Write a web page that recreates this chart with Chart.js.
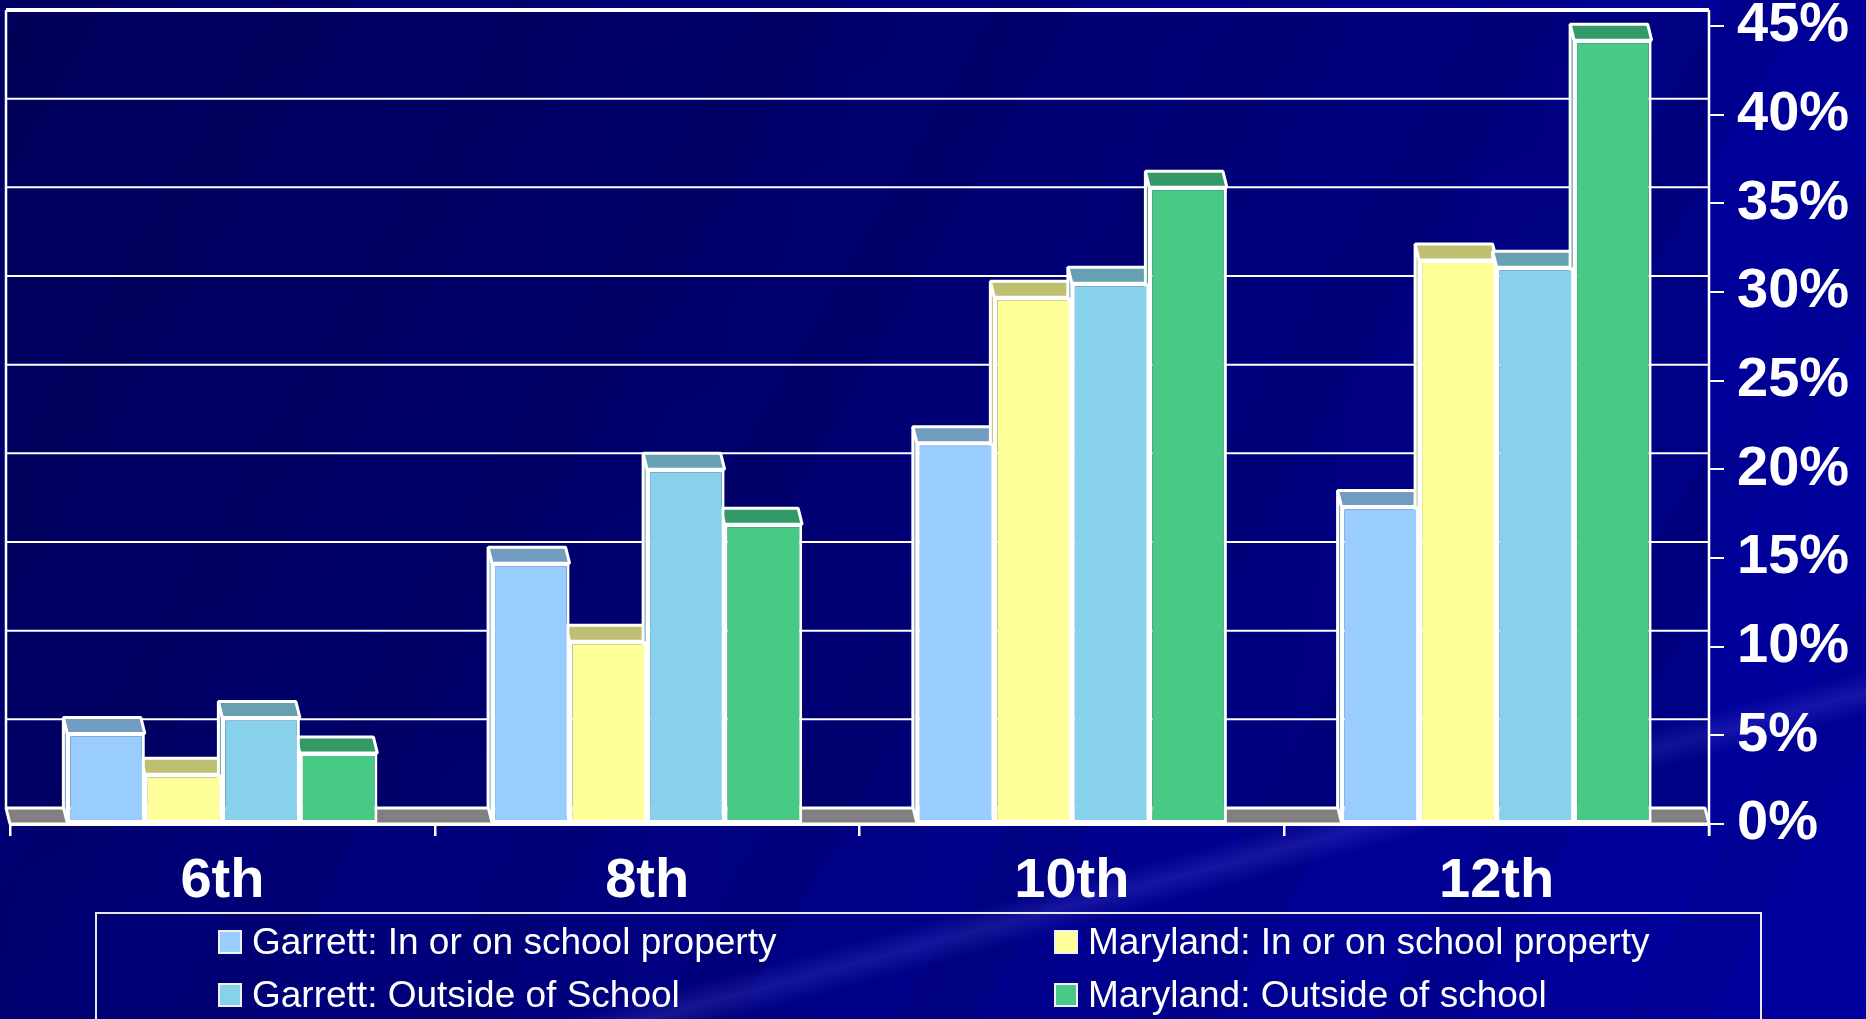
<!DOCTYPE html>
<html>
<head>
<meta charset="utf-8">
<script src="https://cdn.jsdelivr.net/npm/chart.js@4/dist/chart.umd.min.js"></script>
<style>
  html, body { margin: 0; padding: 0; }
  body {
    width: 1866px; height: 1019px; overflow: hidden; position: relative;
    font-family: "Liberation Sans", Arial, sans-serif;
    background:
      linear-gradient(165deg, rgba(255,255,255,0) 0%, rgba(255,255,255,0) 77%, rgba(120,120,255,0.18) 78.5%, rgba(255,255,255,0) 80%),
      repeating-linear-gradient(-60deg, rgba(0,0,0,0) 0px, rgba(0,0,0,0) 140px, rgba(0,0,40,0.07) 140px, rgba(0,0,40,0.07) 210px),
      linear-gradient(155deg, rgba(0,0,30,0.12) 0%, rgba(0,0,30,0) 55%),
      linear-gradient(100deg, #000070 0%, #000080 40%, #000092 70%, #00009e 100%);
  }
  #wrap { position: absolute; left: 0; top: 0; width: 1866px; height: 1019px; }
  #legend {
    position: absolute; left: 95px; top: 912px; width: 1667px; height: 130px;
    border: 2px solid #e8e8f0; box-sizing: border-box;
    display: grid; grid-template-columns: 836px auto; grid-template-rows: 53px 53px;
    padding: 1px 0 0 121px; color: #fff; font-size: 37px;
  }
  .item { display: flex; align-items: center; white-space: nowrap; }
  .sw { width: 20px; height: 20px; border: 2px solid #f0f0f0; margin-right: 10px; flex: none; }
</style>
</head>
<body>
<div id="wrap"><canvas id="gradeChart"></canvas></div>
<div id="legend"></div>
<script>
const categories = ['6th', '8th', '10th', '12th'];
const seriesNames = [
    'Garrett: In or on school property',
    'Maryland: In or on school property',
    'Garrett: Outside of School',
    'Maryland: Outside of school'
];
const garrettIn = [5.1, 14.7, 21.5, 17.9];
const marylandIn = [2.8, 10.3, 29.7, 31.8];
const garrettOut = [6.0, 20.0, 30.5, 31.4];
const marylandOut = [4.0, 16.9, 35.9, 44.2];
const yMax = 45;
const yStep = 5;

const frontColors = ['#99ccff', '#ffff99', '#87d1ea', '#48c986'];
const topColors = ['#729cc0', '#bfbf72', '#66a0b2', '#339966'];

// depth offset of the fake 3d look
const dx = -4, dy = -16;

const bar3d = {
    id: 'bar3d',
    beforeDatasetsDraw(chart) {
        const { ctx, chartArea: a, scales: { y } } = chart;
        const y0 = y.getPixelForValue(0);
        ctx.save();
        ctx.lineJoin = 'bevel';
        // back wall
        ctx.fillStyle = 'rgba(0,0,40,0.16)';
        ctx.fillRect(a.left + dx, y.getPixelForValue(yMax) + dy, a.right - a.left - dx, y0 - y.getPixelForValue(yMax));
        // grid lines on the back wall
        ctx.strokeStyle = '#ffffff';
        y.ticks.forEach(t => {
            if (t.value === 0) return;
            const py = y.getPixelForValue(t.value) + dy;
            ctx.lineWidth = t.value === yMax ? 4 : 2;
            ctx.beginPath();
            ctx.moveTo(a.left + dx, py);
            ctx.lineTo(a.right, py);
            ctx.stroke();
        });
        // left wall edge
        ctx.lineWidth = 2.5;
        ctx.beginPath();
        ctx.moveTo(a.left + dx, y.getPixelForValue(yMax) + dy);
        ctx.lineTo(a.left + dx, y0 + dy);
        ctx.stroke();
        // floor
        ctx.fillStyle = '#808080';
        ctx.lineWidth = 3;
        ctx.beginPath();
        ctx.moveTo(a.left + dx, y0 + dy);
        ctx.lineTo(a.right + dx, y0 + dy);
        ctx.lineTo(a.right, y0);
        ctx.lineTo(a.left, y0);
        ctx.closePath();
        ctx.fill();
        ctx.stroke();
        // bar tops and sides
        chart.data.datasets.forEach((ds, i) => {
            chart.getDatasetMeta(i).data.forEach(el => {
                const l = el.x - el.width / 2, r = el.x + el.width / 2;
                ctx.fillStyle = topColors[i];
                ctx.beginPath();
                ctx.moveTo(l, el.y);
                ctx.lineTo(l + dx, el.y + dy);
                ctx.lineTo(l + dx, el.base + dy);
                ctx.lineTo(l, el.base);
                ctx.closePath();
                ctx.fill();
                ctx.stroke();
                ctx.beginPath();
                ctx.moveTo(l, el.y);
                ctx.lineTo(r, el.y);
                ctx.lineTo(r + dx, el.y + dy);
                ctx.lineTo(l + dx, el.y + dy);
                ctx.closePath();
                ctx.fill();
                ctx.stroke();
            });
        });
        ctx.restore();
    },
    afterDraw(chart) {
        const { ctx, chartArea: a, scales: { y } } = chart;
        ctx.save();
        ctx.strokeStyle = '#ffffff';
        ctx.lineWidth = 2.5;
        ctx.beginPath();
        ctx.moveTo(a.right, y.getPixelForValue(yMax) + dy);
        ctx.lineTo(a.right, y.getPixelForValue(0) + 12);
        ctx.stroke();
        ctx.restore();
    }
};

const ctx = document.getElementById('gradeChart').getContext('2d');
const gradeChart = new Chart(ctx, {
    type: 'bar',
    data: {
        labels: categories,
        datasets: [garrettIn, marylandIn, garrettOut, marylandOut].map((vals, i) => ({
            label: seriesNames[i],
            data: vals,
            backgroundColor: frontColors[i],
            borderColor: '#ffffff',
            borderWidth: 3,
            borderSkipped: false,
            categoryPercentage: 0.73,
            barPercentage: 1.0
        }))
    },
    plugins: [bar3d],
    options: {
        responsive: true,
        maintainAspectRatio: false,
        animation: false,
        layout: { padding: { top: 26, left: 10, right: 0, bottom: 0 } },
        plugins: { legend: { display: false }, tooltip: { enabled: false } },
        scales: {
            x: {
                offset: true,
                grid: { display: true, drawOnChartArea: false, color: '#ffffff', lineWidth: 2.5, tickLength: 12, offset: true },
                border: { display: true, color: '#ffffff', width: 3 },
                ticks: { color: '#ffffff', padding: 12, font: { family: 'Liberation Sans', size: 56, weight: 'bold' } },
                afterFit(scale) { scale.height = 195; scale.paddingLeft = 0; scale.paddingRight = 0; }
            },
            y: {
                position: 'right',
                min: 0,
                max: yMax,
                grid: { display: true, drawOnChartArea: false, color: '#ffffff', lineWidth: 2, tickLength: 15 },
                border: { display: false },
                ticks: {
                    stepSize: yStep,
                    color: '#ffffff',
                    padding: 13,
                    font: { family: 'Liberation Sans', size: 56, weight: 'bold' },
                    callback: v => v + '%'
                },
                afterFit(scale) { scale.width = 157; scale.paddingTop = 0; scale.paddingBottom = 0; }
            }
        }
    }
});

// legend in two columns
const legendEl = document.getElementById('legend');
gradeChart.data.datasets.forEach(ds => {
    const item = document.createElement('div');
    item.className = 'item';
    const sw = document.createElement('span');
    sw.className = 'sw';
    sw.style.background = ds.backgroundColor;
    const txt = document.createElement('span');
    txt.textContent = ds.label;
    item.appendChild(sw);
    item.appendChild(txt);
    legendEl.appendChild(item);
});
</script>
</body>
</html>
